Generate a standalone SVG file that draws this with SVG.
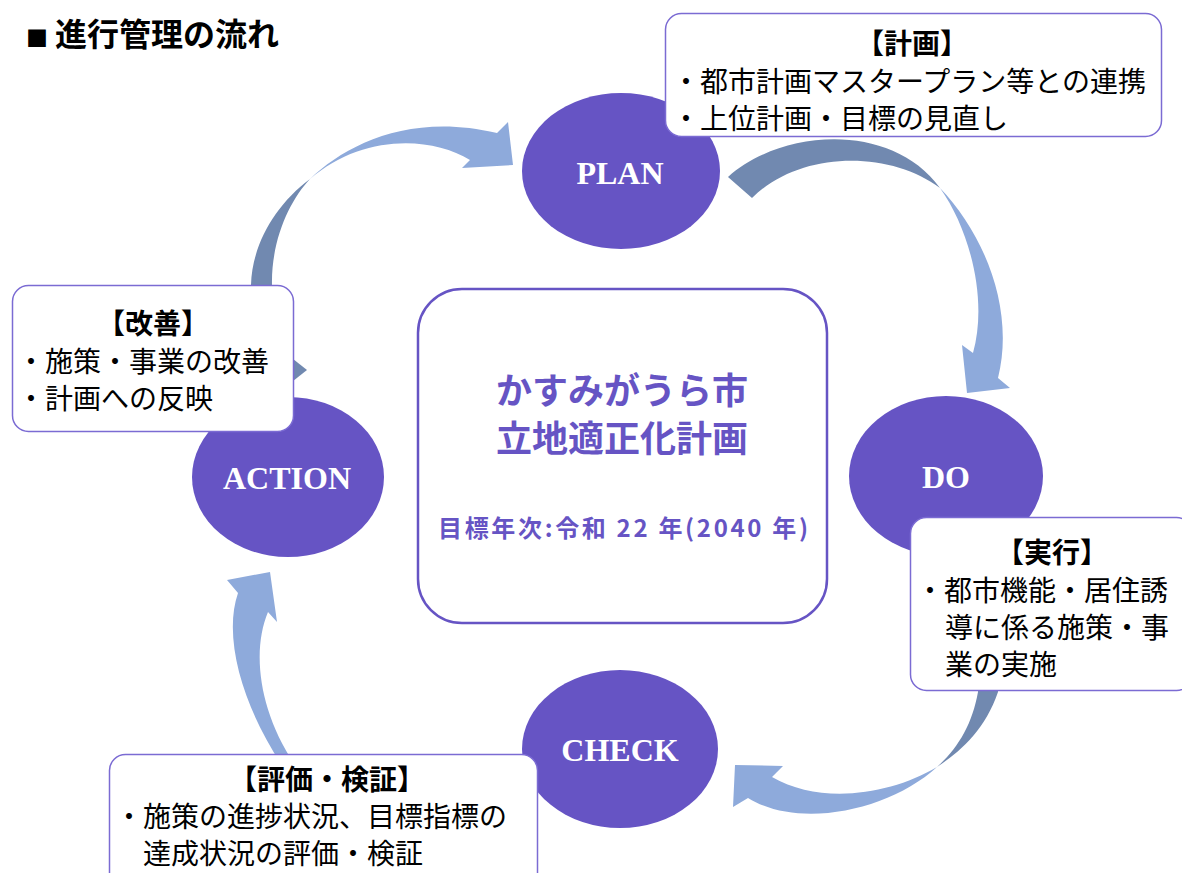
<svg xmlns="http://www.w3.org/2000/svg" width="1182" height="873" viewBox="0 0 1182 873">
<style>
.bg{fill:#ffffff}
.al{fill:#8eaadb}
.ad{fill:#7189b0}
.node ellipse{fill:#6654c4}
.lbl{font-family:"Liberation Serif",serif;font-weight:bold;font-size:32px;fill:#ffffff;text-anchor:middle}
.jp{font-family:"Noto Sans CJK JP","Noto Sans",sans-serif;font-size:28px;fill:#000000}
.hd{font-weight:bold;text-anchor:middle}
.note rect{fill:#ffffff;stroke:#7b6bd3;stroke-width:1.5}
.ctr rect{fill:#ffffff;stroke:#6654c4;stroke-width:2.5}
.ct{font-family:"Noto Sans CJK JP","Noto Sans",sans-serif;font-weight:bold;fill:#6654c4}
</style>
<rect class="bg" x="0" y="0" width="1182" height="873"/>

<text class="jp" x="26" y="46" style="font-weight:bold;font-size:32px"><tspan style="font-size:22px">■</tspan><tspan x="55">進行管理の流れ</tspan></text>

<g id="connectors">
  <!-- ACTION -> PLAN -->
  <path class="ad" d="M251,295 L251,285 C252,245 275,205 310,179 C290,200 271,240 272,285 L272,295 Z"/>
  <path class="al" d="M310,179 C345,145 410,112 497,133 L508,122 L513,165 L462,168 L470,160 C430,135 360,135 310,179 Z"/>
  <path class="ad" d="M288,355 L307,370 L288,385 Z"/>
  <!-- PLAN -> DO -->
  <path class="ad" d="M728,177 C780,130 890,120 940,188 C890,150 800,150 752,198 Z"/>
  <path class="al" d="M940,188 C985,235 1015,310 998,378 L1010,388 L967,393 L962,345 L973,353 C988,300 970,230 940,188 Z"/>
  <!-- DO -> CHECK -->
  <path class="ad" d="M978,680 L978,692 C972,725 958,748 937,767 C960,752 985,730 998,692 L998,680 Z"/>
  <path class="al" d="M937,767 C890,810 800,830 748,798 L733,807 L735,765 L783,766 L772,777 C820,805 890,795 937,767 Z"/>
  <!-- CHECK -> ACTION -->
  <path class="al" d="M282,765 C245,710 222,640 238,593 L227,580 L270,572 L277,622 L268,612 C252,650 258,710 295,765 Z"/>
</g>

<g id="plan" class="node">
  <ellipse cx="621" cy="171" rx="99" ry="78"/>
  <text class="lbl" x="620" y="184">PLAN</text>
</g>
<g id="do" class="node">
  <ellipse cx="946" cy="476" rx="97" ry="80"/>
  <text class="lbl" x="946" y="488">DO</text>
</g>
<g id="check" class="node">
  <ellipse cx="620" cy="749" rx="98" ry="79"/>
  <text class="lbl" x="620" y="761">CHECK</text>
</g>
<g id="action" class="node">
  <ellipse cx="288" cy="477" rx="96" ry="80"/>
  <text class="lbl" x="287" y="489">ACTION</text>
</g>

<g id="center" class="ctr">
  <rect x="418" y="289" width="409" height="334" rx="44" ry="44"/>
  <text class="ct" x="622" y="404" style="font-size:36px" text-anchor="middle">かすみがうら市</text>
  <text class="ct" x="622" y="452" style="font-size:36px" text-anchor="middle">立地適正化計画</text>
  <text class="ct" x="438" y="537" style="font-size:24px" textLength="370" lengthAdjust="spacing">目標年次:令和 22 年(2040 年)</text>
</g>

<g id="note-plan" class="note">
  <rect x="665.5" y="13.5" width="496" height="123" rx="16" ry="16"/>
  <text class="jp hd" x="912" y="54">【計画】</text>
  <text class="jp" x="672" y="92">・都市計画マスタープラン等との連携</text>
  <text class="jp" x="672" y="129">・上位計画・目標の見直し</text>
</g>

<g id="note-action" class="note">
  <rect x="12.5" y="285.5" width="281" height="146" rx="16" ry="16"/>
  <text class="jp hd" x="153" y="334">【改善】</text>
  <text class="jp" x="17" y="372">・施策・事業の改善</text>
  <text class="jp" x="17" y="409">・計画への反映</text>
</g>

<g id="note-do" class="note">
  <rect x="910.5" y="517.5" width="282" height="173" rx="16" ry="16"/>
  <text class="jp hd" x="1052" y="563">【実行】</text>
  <text class="jp" x="916" y="601">・都市機能・居住誘</text>
  <text class="jp" x="945" y="638">導に係る施策・事</text>
  <text class="jp" x="945" y="675">業の実施</text>
</g>

<g id="note-check" class="note">
  <rect x="109.5" y="754.5" width="428" height="140" rx="16" ry="16"/>
  <text class="jp hd" x="327" y="790">【評価・検証】</text>
  <text class="jp" x="115" y="827">・施策の進捗状況、目標指標の</text>
  <text class="jp" x="143" y="864">達成状況の評価・検証</text>
</g>
</svg>
